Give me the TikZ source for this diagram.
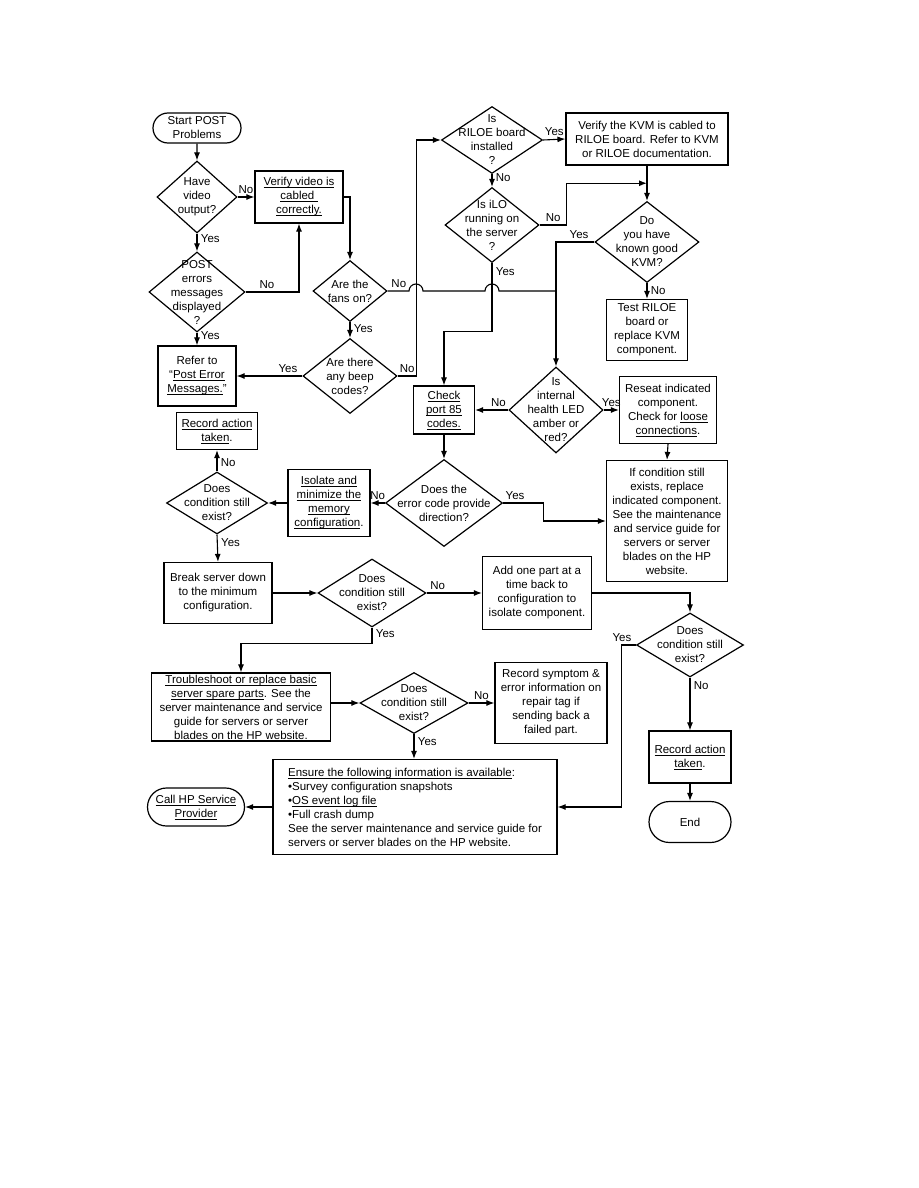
\documentclass[tikz,border=0pt]{standalone}
\usepackage{fontspec}
\setmainfont{Liberation Sans}
\usepackage{tikz}
\usetikzlibrary{shapes.geometric, shapes.misc, arrows.meta, calc}
\newcommand{\ulx}[1]{\setbox0\hbox{#1}\rlap{\rule[-2.2pt]{\wd0}{0.7pt}}\box0}
\tikzstyle{startstop} = [
    rounded rectangle, draw=black, line width=1.2pt,
    inner sep=0pt, align=center]
\tikzstyle{process} = [
    rectangle, draw=black, line width=1.2pt,
    inner sep=0pt, align=center]
\tikzstyle{decision} = [
    diamond, draw=black, line width=1.2pt, inner sep=0pt]
\tikzstyle{dtext} = [align=center, inner sep=0pt]
\tikzstyle{arrow} = [line width=1.1pt, -{Latex[length=8pt,width=6pt]}]
\tikzstyle{wire} = [line width=1.1pt]

\begin{document}
\begin{tikzpicture}[x=1pt, y=-1pt, every node/.style={font=\fontsize{11.5}{14}\selectfont}]

  \useasboundingbox[fill=white] (0,0) rectangle (918,1188);

  \node (start) [startstop, minimum width=88pt, minimum height=30pt] at (197,128)
      {Start POST\\Problems};
  \node (video) [decision, minimum width=80pt, minimum height=72pt,
      label={[dtext]center:{Have\\video\\output?}}] at (197,197) {};
  \node (verifyvid) [process, minimum width=88pt, minimum height=52pt] at (299,197)
      {\ulx{Verify video is}\\\ulx{cabled\ }\\\ulx{correctly.}};
  \node (posterr) [decision, minimum width=96pt, minimum height=80pt,
      label={[dtext]center:{POST\\errors\\messages\\displayed\\?}}] at (197,292) {};
  \node (referpost) [process, minimum width=78pt, minimum height=60pt] at (197,376)
      {Refer to\\“\ulx{Post Error}\\\ulx{Messages.}”};
  \node (fans) [decision, minimum width=74pt, minimum height=61pt,
      label={[dtext]center:{Are the\\fans on?}}] at (350,291) {};
  \node (beep) [decision, minimum width=94pt, minimum height=75pt,
      label={[dtext]center:{Are there\\any beep\\codes?}}] at (350,376) {};
  \node (riloe) [decision, minimum width=101pt, minimum height=67pt,
      label={[dtext]center:{Is\\RILOE board\\installed\\?}}] at (492,140) {};
  \node (verifykvm) [process, minimum width=162pt, minimum height=52pt] at (647,139)
      {Verify the KVM is cabled to\\RILOE board. Refer to KVM\\or RILOE documentation.};
  \node (ilo) [decision, minimum width=94pt, minimum height=75pt,
      label={[dtext]center:{Is iLO\\running on\\the server\\?}}] at (492,225) {};
  \node (kvm) [decision, minimum width=104pt, minimum height=81pt,
      label={[dtext]center:{Do\\you have\\known good\\KVM?}}] at (647,242) {};
  \node (testriloe) [process, minimum width=81pt, minimum height=61pt] at (647,330)
      {Test RILOE\\board or\\replace KVM\\component.};
  \node (health) [decision, minimum width=94pt, minimum height=86pt,
      label={[dtext]center:{Is\\internal\\health LED\\amber or\\red?}}] at (556,410) {};
  \node (checkport) [process, minimum width=61pt, minimum height=48pt] at (444,410)
      {\ulx{Check}\\\ulx{port 85}\\\ulx{codes.}};
  \node (reseat) [process, minimum width=97pt, minimum height=67pt] at (668,410)
      {Reseat indicated\\component.\\Check for \ulx{loose}\\\ulx{connections}.};
  \node (replace) [process, minimum width=121pt, minimum height=121pt] at (667,521)
      {If condition still\\exists, replace\\indicated component.\\See the maintenance\\and service guide for\\servers or server\\blades on the HP\\website.};
  \node (errcode) [decision, minimum width=117pt, minimum height=87pt,
      label={[dtext]center:{Does the\\error code provide\\direction?}}] at (444,503) {};
  \node (isolate) [process, minimum width=82pt, minimum height=67pt] at (329,503)
      {\ulx{Isolate and}\\\ulx{minimize the}\\\ulx{memory}\\\ulx{configuration}.};
  \node (cond1) [decision, minimum width=101pt, minimum height=62pt,
      label={[dtext]center:{Does\\condition still\\exist?}}] at (217,503) {};
  \node (recact1) [process, minimum width=81pt, minimum height=37pt] at (217,431)
      {\ulx{Record action}\\\ulx{taken}.};
  \node (breakdown) [process, minimum width=108pt, minimum height=61pt] at (218,593)
      {Break server down\\to the minimum\\configuration.};
  \node (cond2) [decision, minimum width=108pt, minimum height=68pt,
      label={[dtext]center:{Does\\condition still\\exist?}}] at (372,593) {};
  \node (addpart) [process, minimum width=109pt, minimum height=73pt] at (537,593)
      {Add one part at a\\time back to\\configuration to\\isolate component.};
  \node (cond3) [decision, minimum width=107pt, minimum height=64pt,
      label={[dtext]center:{Does\\condition still\\exist?}}] at (690,645) {};
  \node (recact2) [process, minimum width=82pt, minimum height=52pt] at (690,757)
      {\ulx{Record action}\\\ulx{taken}.};
  \node (endnode) [startstop, minimum width=82pt, minimum height=41pt] at (690,822)
      {End};
  \node (trouble) [process, minimum width=179pt, minimum height=68pt] at (241,707)
      {\ulx{Troubleshoot or replace basic}\\\ulx{server spare parts}. See the\\server maintenance and service\\guide for servers or server\\blades on the HP website.};
  \node (cond4) [decision, minimum width=108pt, minimum height=61pt,
      label={[dtext]center:{Does\\condition still\\exist?}}] at (414,703) {};
  \node (recsymptom) [process, minimum width=112pt, minimum height=81pt] at (551,703)
      {Record symptom \&\\error information on\\repair tag if\\sending back a\\failed part.};
  \node (ensure) [process, align=left, minimum width=284pt, minimum height=95pt] at (415,807)
      {\ulx{Ensure the following information is available}:\\•Survey configuration snapshots\\•\ulx{OS event log file}\\•Full crash dump\\See the server maintenance and service guide for\\servers or server blades on the HP website.};
  \node (callhp) [startstop, minimum width=97pt, minimum height=38pt] at (196,807)
      {\ulx{Call HP Service}\\\ulx{Provider}};

  \draw [arrow] (start) -- (video);
  \draw [arrow] (video.east) -- node[above] {No} (verifyvid.west);
  \draw [arrow] (video.south) -- node[right, pos=0.3] {Yes} (posterr.north);
  \draw [arrow] (verifyvid.east) -| (fans.north);
  \draw [arrow] (posterr.east) -| node[above, pos=0.2] {No} (verifyvid.south);
  \draw [arrow] (posterr.south) -- node[right, pos=0.2] {Yes} (referpost.north);
  \draw [arrow] (fans.south) -- node[right, pos=0.4] {Yes} (beep.north);
  \draw [arrow] (beep.west) -- node[above, pos=0.22] {Yes} (referpost.east);
  \draw [arrow] (beep.east) -- node[above] {No} ++(19,0) |- (riloe.west);
  \draw [wire] (fans.east) node[above right] {No} -- (409,291)
      arc[start angle=180, end angle=360, radius=7] -- (485,291)
      arc[start angle=180, end angle=360, radius=7] -- (health.north |- fans.east);
  \draw [arrow] (riloe.east) -- node[above] {Yes} (verifykvm.west);
  \draw [arrow] (riloe.south) -- node[right, pos=0.3] {No} (ilo.north);
  \draw [arrow] (verifykvm.south) -- (kvm.north);
  \draw [arrow] (ilo.east) -- node[above] {No} ++(27,0)
      |- ($(verifykvm.south)!0.5!(kvm.north)$);
  \draw [arrow] (kvm.west) -| node[above, pos=0.2] {Yes} (health.north);
  \draw [arrow] (kvm.south) -- node[right] {No} (testriloe.north);
  \draw [arrow] (ilo.south) -- node[right, pos=0.12] {Yes} ++(0,68) -| (checkport.north);
  \draw [arrow] (health.west) -- node[above, pos=0.3] {No} (checkport.east);
  \draw [arrow] (health.east) -- node[above] {Yes} (reseat.west);
  \draw [arrow] (reseat.south) -- (replace.north);
  \draw [arrow] (checkport.south) -- (errcode.north);
  \draw [arrow] (errcode.east) -- node[above, pos=0.3] {Yes} ++(40,0) |- (replace.west);
  \draw [arrow] (errcode.west) -- node[above] {No} (isolate.east);
  \draw [arrow] (isolate.west) -- (cond1.east);
  \draw [arrow] (cond1.north) -- node[right, pos=0.4] {No} (recact1.south);
  \draw [arrow] (cond1.south) -- node[right, pos=0.3] {Yes} (breakdown.north);
  \draw [arrow] (breakdown.east) -- (cond2.west);
  \draw [arrow] (cond2.east) -- node[above, pos=0.2] {No} (addpart.west);
  \draw [arrow] (addpart.east) -| (cond3.north);
  \draw [arrow] (cond3.south) -- node[right, pos=0.15] {No} (recact2.north);
  \draw [arrow] (recact2.south) -- (endnode.north);
  \draw [arrow] (cond3.west) -- node[above, pos=1] {Yes} ++(-14,0) |- (ensure.east);
  \draw [arrow] (cond2.south) -- node[right, pos=0.4] {Yes} ++(0,16) -| (trouble.north);
  \draw [arrow] (trouble.east |- cond4.west) -- (cond4.west);
  \draw [arrow] (cond4.east) -- node[above] {No} (recsymptom.west);
  \draw [arrow] (cond4.south) -- node[right, pos=0.3] {Yes} (cond4.south |- ensure.north);
  \draw [arrow] (ensure.west) -- (callhp.east);

\end{tikzpicture}
\end{document}
